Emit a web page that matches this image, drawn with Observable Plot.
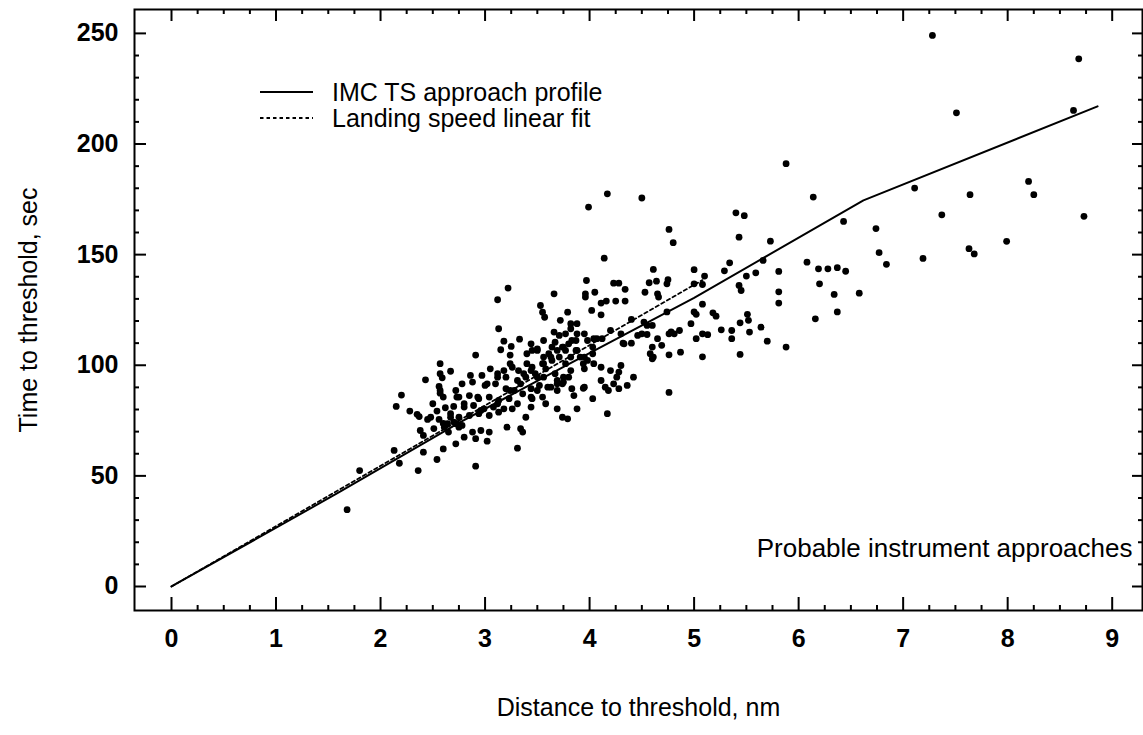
<!DOCTYPE html>
<html><head><meta charset="utf-8">
<script src="https://cdn.jsdelivr.net/npm/d3@7"></script>
<script src="https://cdn.jsdelivr.net/npm/@observablehq/plot@0.6"></script>
<style>
body{margin:0;background:#fff;}
#wrap{position:relative;width:1143px;height:735px;font-family:"Liberation Sans",Arial,Helvetica,sans-serif;}
.leg{position:absolute;left:260px;height:22px;font-size:25px;line-height:22px;color:#000;display:flex;align-items:center;white-space:nowrap;}
.leg svg{margin-right:18px;}
</style></head><body><div id="wrap"></div>
<script>
const distance=[1.68,1.80,2.13,2.18,2.36,2.41,2.54,2.60,2.72,2.20,
2.15,2.28,2.35,2.37,2.50,2.57,2.60,2.45,2.54,2.62,
2.70,2.56,2.60,2.38,2.41,2.51,2.64,2.70,2.57,2.67,
2.57,2.59,2.43,2.56,2.57,2.72,2.73,2.67,2.72,2.75,
2.65,3.22,3.12,3.66,3.53,3.55,3.57,3.79,3.72,3.13,
3.18,3.33,3.25,3.15,3.24,2.91,3.66,3.71,3.77,3.40,
3.45,3.50,3.56,3.61,3.64,3.67,3.74,3.80,3.83,3.40,
3.45,3.55,3.58,3.64,3.71,3.77,2.86,2.97,3.05,3.12,
3.20,3.26,3.32,3.39,3.48,3.56,3.67,3.80,2.78,2.88,
3.00,3.10,3.20,3.28,2.75,2.85,2.94,3.04,3.13,3.23,
2.80,2.89,2.99,3.08,3.18,3.26,2.75,2.85,2.94,3.04,
3.13,2.78,3.34,3.44,3.52,3.63,3.36,3.45,3.55,3.58,
3.69,3.74,3.83,3.85,3.44,3.69,3.74,3.79,3.39,3.21,
3.34,3.36,2.88,2.96,3.04,2.80,2.91,3.02,3.31,2.91,
4.14,3.97,4.23,4.28,4.34,3.96,3.96,4.05,4.11,4.16,
4.25,4.34,4.02,4.11,3.88,3.82,3.88,3.87,3.98,4.07,
4.20,4.33,4.11,4.20,4.26,4.30,4.11,4.15,4.23,4.36,
3.95,3.88,4.03,4.17,5.88,4.17,3.99,4.50,4.76,4.80,
5.40,5.48,5.43,5.73,6.14,6.43,6.74,6.77,6.84,6.08,
6.19,6.28,6.37,6.45,6.20,6.34,6.58,6.37,6.16,5.81,
5.81,5.81,5.88,5.70,5.64,5.53,5.52,5.51,5.44,5.36,
5.36,5.26,5.44,5.59,5.50,5.66,5.34,5.29,5.43,5.45,
5.00,5.10,5.00,5.08,5.08,5.00,5.02,5.18,5.21,4.97,
4.86,4.78,4.76,4.81,5.02,5.08,5.13,5.08,4.87,4.76,
4.76,4.74,4.74,4.75,4.64,4.57,4.61,4.53,4.65,4.66,
4.52,4.55,4.60,4.46,4.50,4.55,4.65,4.69,4.60,4.61,
4.40,4.40,4.32,4.42,3.95,4.04,4.12,4.30,4.28,3.94,
4.18,4.28,4.03,3.95,3.94,4.58,4.60,3.82,3.77,3.87,
3.91,3.98,4.03,4.04,3.82,3.69,3.75,7.28,8.68,7.51,
8.63,7.11,7.37,7.64,8.20,8.25,8.73,7.99,7.63,7.19,7.68,
3.02,2.93,2.80,2.96,3.12,3.24,3.31,3.37,3.44,3.50,
3.56,3.63,3.69,3.75,3.82,3.88,3.95,2.67,2.73,2.61,
2.48,3.31,3.44,3.50,3.60,3.69,3.75,3.18,3.24,3.12,
3.44,3.50,3.56];
const time=[34.7,52.4,61.5,55.7,52.4,60.7,57.4,62.2,64.5,86.5,
81.4,79.3,77.8,76.8,82.6,87.4,85.6,75.5,79.3,80.8,
81.4,75.5,73.7,70.5,68.3,71.4,73.6,74.3,100.7,97.3,
96.2,94.3,93.4,90.4,88.6,88.6,85.6,78.1,73.6,72.0,
69.8,134.9,129.6,132.3,127.0,124.0,121.7,124.0,120.3,116.5,
110.9,111.8,108.5,107.0,104.6,104.6,115.0,113.5,114.2,105.2,
106.7,107.4,103.7,105.2,108.2,110.4,108.2,109.7,111.2,100.7,
99.1,100.7,98.4,102.2,103.7,100.7,95.4,95.4,98.4,96.2,
94.6,99.1,97.6,94.6,96.2,94.6,96.2,94.6,91.6,92.4,
90.9,91.6,89.4,88.6,85.6,86.3,84.9,85.6,84.1,84.9,
81.1,81.8,80.3,81.1,80.3,80.3,76.5,77.3,78.1,77.3,
78.8,72.8,91.6,89.4,90.9,90.1,87.1,84.9,85.6,82.6,
88.6,91.6,89.4,86.3,81.1,80.3,76.5,75.8,76.5,72.0,
71.3,69.8,69.8,70.5,69.8,67.5,66.8,65.7,62.5,54.4,
148.4,138.3,137.1,137.1,134.3,132.3,130.8,133.0,128.1,129.0,
129.0,129.0,124.8,122.8,118.8,116.5,114.2,111.2,111.2,112.0,
115.7,109.7,99.1,97.6,94.6,99.9,93.1,90.1,91.6,90.9,
90.1,80.3,84.9,78.1,191.1,177.5,171.5,175.6,161.4,155.4,
168.9,167.6,157.9,156.1,176.0,165.0,161.8,150.9,145.6,146.6,
143.6,143.6,144.1,142.5,136.8,132.0,132.6,124.1,121.0,142.4,
133.2,128.1,108.2,110.9,117.2,115.0,120.3,123.0,119.2,115.7,
112.0,116.0,104.9,141.8,140.3,147.4,146.3,142.7,136.1,133.8,
143.2,140.3,136.8,136.5,127.6,124.1,123.0,123.7,122.2,118.8,
115.7,115.1,114.2,114.2,112.0,114.2,113.8,103.8,105.9,104.7,
87.7,124.1,136.8,138.7,138.0,137.3,143.3,133.0,132.3,130.8,
119.5,118.0,118.0,113.5,114.2,113.9,112.0,109.0,108.2,103.7,
120.7,110.0,110.0,94.6,114.2,112.0,112.0,114.2,96.9,89.6,
88.6,89.4,108.2,98.4,100.7,105.2,102.9,118.8,106.7,106.7,
103.7,102.2,105.2,100.7,97.6,93.1,92.4,249.1,238.5,214.1,
215.2,180.1,168.0,177.1,183.1,177.1,167.3,156.0,152.7,148.3,150.3,
91.6,85.6,82.6,79.6,82.6,88.6,93.1,96.2,97.6,94.6,
100.7,103.7,106.7,108.2,103.7,106.7,103.7,76.5,73.6,72.0,
76.5,82.6,85.6,88.6,90.1,91.6,94.6,97.6,100.7,94.6,
109.7,106.7,111.2];
const profileDistance=[0,1.6,2.75,3.8,5.0,6.62,8.86];
const profileTime=[0,42.5,74,100.5,130.5,174.5,217];
const fitDistance=[0,5.08];
const fitTime=[0,138.5];
const xTicks=[0,1,2,3,4,5,6,7,8,9];
const yTicks=[0,50,100,150,200,250];
const xMinor=d3.range(0,9.001,0.25).filter(v=>Math.abs(v-Math.round(v))>1e-6);
const yMinor=d3.range(0,250.001,10).filter(v=>v%50!==0);

const n=Math.min(distance.length,time.length);
const points=d3.range(n).map(i=>({d:distance[i],t:time[i]}));
const profile=profileDistance.map((d,i)=>({d,t:profileTime[i]}));
const fit=fitDistance.map((d,i)=>({d,t:fitTime[i]}));

const W=1143,H=735,mt=9,mb=125,ml=134,mr=1;
const fh=H-mt-mb, fw=W-ml-mr;
const font='"Liberation Sans",Arial,Helvetica,sans-serif';
const chart=Plot.plot({
  width:W,height:H,marginTop:mt,marginBottom:mb,marginLeft:ml,marginRight:mr,
  style:{fontFamily:font,color:"black",background:"white"},
  x:{domain:[-0.354,9.29]},
  y:{domain:[-10.85,260.8]},
  marks:[
    Plot.axisX({ticks:xTicks,tickSize:0,tickPadding:19,fontSize:25,fontWeight:"bold",label:null}),
    Plot.axisY({ticks:yTicks,tickSize:0,tickPadding:16,fontSize:25,fontWeight:"bold",label:null}),
    Plot.tickX(xTicks,{x:d=>d,insetTop:fh-13,strokeWidth:2}),
    Plot.tickX(xMinor,{x:d=>d,insetTop:fh-5,strokeWidth:2}),
    Plot.tickX(xTicks,{x:d=>d,insetBottom:fh-12,strokeWidth:2}),
    Plot.tickX(xMinor,{x:d=>d,insetBottom:fh-5,strokeWidth:2}),
    Plot.tickY(yTicks,{y:d=>d,insetRight:fw-12,strokeWidth:2}),
    Plot.tickY(yMinor,{y:d=>d,insetRight:fw-5,strokeWidth:2}),
    Plot.tickY(yTicks,{y:d=>d,insetLeft:fw-10,strokeWidth:2}),
    Plot.tickY(yMinor,{y:d=>d,insetLeft:fw-4,strokeWidth:2}),
    Plot.frame({stroke:"black",strokeWidth:2}),
    Plot.line(profile,{x:"d",y:"t",stroke:"black",strokeWidth:2}),
    Plot.line(fit,{x:"d",y:"t",stroke:"black",strokeWidth:1.8,strokeDasharray:"3.5,3"}),
    Plot.dot(points,{x:"d",y:"t",r:3.4,fill:"black"}),
    Plot.text(["Probable instrument approaches"],{frameAnchor:"bottom-right",dx:-10,dy:-62,textAnchor:"end",lineAnchor:"middle",fontSize:26}),
    Plot.text(["Distance to threshold, nm"],{frameAnchor:"bottom",dy:97,textAnchor:"middle",lineAnchor:"middle",fontSize:25}),
    Plot.text(["Time to threshold, sec"],{frameAnchor:"left",dx:-106,textAnchor:"middle",lineAnchor:"middle",rotate:-90,fontSize:25})
  ]
});
const wrap=document.getElementById("wrap");
wrap.appendChild(chart);
const legendItems=[
  {label:"IMC TS approach profile",dash:null,width:2,center:92},
  {label:"Landing speed linear fit",dash:"3.5,3",width:1.8,center:118}
];
for(const it of legendItems){
  const row=document.createElement("div");
  row.className="leg";
  row.style.top=(it.center-11)+"px";
  row.innerHTML=`<svg width="54" height="22"><line x1="0" x2="53" y1="11" y2="11" stroke="black" stroke-width="${it.width}" ${it.dash?`stroke-dasharray="${it.dash}"`:""}/></svg><span>${it.label}</span>`;
  wrap.appendChild(row);
}
</script></body></html>
